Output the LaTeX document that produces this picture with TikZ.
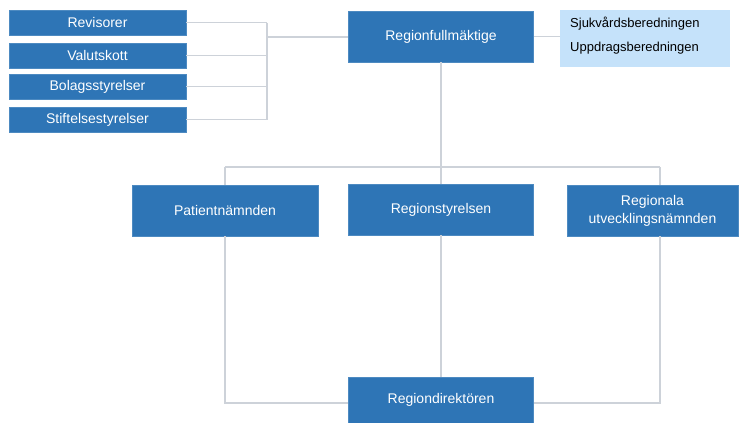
\documentclass[tikz,border=0pt]{standalone}
\usepackage{fontspec}
\setmainfont{Liberation Sans}
\definecolor{boxblue}{HTML}{2E75B6}
\definecolor{lightblue}{HTML}{C5E2FA}
\definecolor{linegray}{HTML}{CDD2D9}
\begin{document}
\begin{tikzpicture}[x=1pt,y=-1pt,
  box/.style={fill=boxblue,draw=boxblue!85!white,line width=0.6pt,text=white,inner sep=0pt,align=center,font=\fontsize{14}{18}\selectfont},
  lbox/.style={fill=lightblue,draw=none,inner sep=0pt},
  conn/.style={draw=linegray,line width=1.5pt}]
\useasboundingbox (0,0) rectangle (739,423);
% left boxes
\node[box,minimum width=177pt,minimum height=25pt] (rev) at (97.5,22.5) {Revisorer};
\node[box,minimum width=177pt,minimum height=25pt] (val) at (97.5,55.5) {Valutskott};
\node[box,minimum width=177pt,minimum height=25pt] (bol) at (97.5,86.5) {Bolagsstyrelser};
\node[box,minimum width=177pt,minimum height=25pt] (sti) at (97.5,119.5) {Stiftelsestyrelser};
% top
\node[box,minimum width=185pt,minimum height=51pt] (rf) at (441,36.5) {Regionfullmäktige};
\node[lbox,minimum width=170pt,minimum height=57pt] (lb) at (645,38.5) {};
\node[anchor=west,inner sep=0pt,font=\fontsize{13}{15}\selectfont] (sj) at (570,24) {Sjukvårdsberedningen};
\node[anchor=west,inner sep=0pt,font=\fontsize{13}{15}\selectfont] (up) at (570,48) {Uppdragsberedningen};
% middle
\node[box,minimum width=186pt,minimum height=51pt] (pat) at (225,210.5) {Patientnämnden};
\node[box,minimum width=185pt,minimum height=51pt] (rs) at (441,209.5) {Regionstyrelsen};
\node[box,minimum width=171pt,minimum height=51pt] (ru) at (652.5,210.5) {Regionala\\utvecklingsnämnden};
% bottom
\node[box,minimum width=185pt,minimum height=46pt] (rd) at (441,400) {Regiondirektören};
% junctions
\coordinate (j1) at (267,37);
\coordinate (jt) at (267,22.5);
\coordinate (jb) at (267,119.5);
\coordinate (hl) at (225,167);
\coordinate (hr) at (660,167);
\coordinate (rut) at (660,185);
\coordinate (rub) at (660,236);
\coordinate (bl) at (225,403);
\coordinate (br) at (660,403);
\begin{scope}[on background layer/.try]
\draw[conn] (rev.east) -- (rev.east -| jt);
\draw[conn] (val.east) -- (val.east -| jt);
\draw[conn] (bol.east) -- (bol.east -| jt);
\draw[conn] (sti.east) -- (sti.east -| jt);
\draw[conn] (jt) -- (jb);
\draw[conn] (j1) -- (j1 -| rf.west);
\draw[conn] (rf.east) -- (rf.east -| lb.west);
\draw[conn] (rf.south) -- (rs.north);
\draw[conn] (hl) -- (hr);
\draw[conn] (pat.north) -- (hl);
\draw[conn] (hr) -- (rut);
\draw[conn] (pat.south) -- (bl) -- (bl -| rd.west);
\draw[conn] (rs.south) -- (rd.north);
\draw[conn] (rub) -- (br) -- (br -| rd.east);
\end{scope}
\end{tikzpicture}
\end{document}
